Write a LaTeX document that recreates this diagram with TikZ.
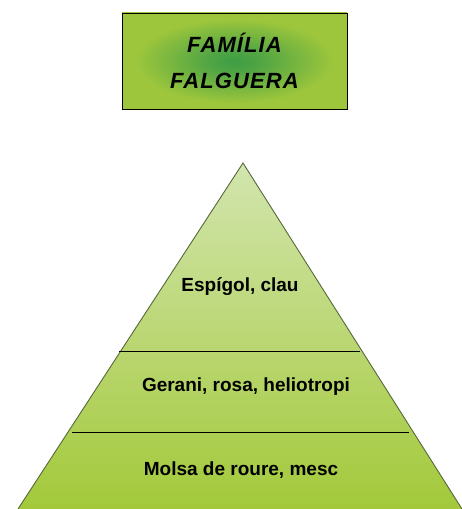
\documentclass[tikz,border=0pt]{standalone}
\usepackage{fontspec}
\setmainfont{Liberation Sans}
\definecolor{boxouter}{HTML}{9DC63C}
\definecolor{boxinner}{HTML}{3E9D45}
\definecolor{pyrtop}{HTML}{D2E5AE}
\definecolor{pyrbot}{HTML}{A3C93A}
\definecolor{pyredge}{HTML}{55683A}
\pgfdeclareradialshading{titleglow}{\pgfpoint{0bp}{0bp}}{%
  color(0bp)=(boxinner);
  color(6bp)=(boxinner!80!boxouter);
  color(14bp)=(boxinner!40!boxouter);
  color(22bp)=(boxouter);
  color(50bp)=(boxouter)}
\tikzset{
  titlebox/.style={draw=black, line width=0.8pt, shading=titleglow,
    minimum width=225pt, minimum height=96pt, inner sep=0pt,
    align=center, font=\fontsize{22}{36}\selectfont\bfseries\itshape\addfontfeature{LetterSpace=5}},
  levellabel/.style={font=\fontsize{19}{22}\selectfont\bfseries, inner sep=0pt},
  divider/.style={draw=black, line width=0.7pt}
}
\begin{document}
\begin{tikzpicture}[x=1pt,y=1pt]
\useasboundingbox (0,0) rectangle (461,509);
% title
\node[titlebox] (title) at (234.5,448) {FAMÍLIA\\FALGUERA};
% pyramid
\coordinate (apex) at (243,346);
\coordinate (bl) at (18,0);
\coordinate (br) at (462,0);
\shade[top color=pyrtop, bottom color=pyrbot] (apex) -- (br) -- (bl) -- cycle;
\draw[pyredge, line width=0.9pt] (bl) -- (apex) -- (br);
% dividers
\coordinate (d1l) at (119,158);
\coordinate (d1r) at (360,158);
\coordinate (d2l) at (72,77);
\coordinate (d2r) at (409,77);
\draw[divider] (d1l) -- (d1r);
\draw[divider] (d2l) -- (d2r);
% labels
\node[levellabel] (l1) at (240,222) {Espígol, clau};
\node[levellabel] (l2) at (246,122) {Gerani, rosa, heliotropi};
\node[levellabel] (l3) at (241,39) {Molsa de roure, mesc};
\end{tikzpicture}
\end{document}
